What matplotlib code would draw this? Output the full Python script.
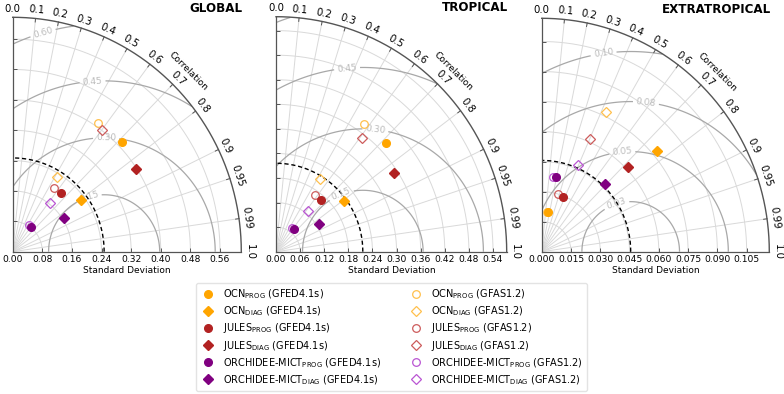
import numpy as np
import matplotlib
matplotlib.use('Agg')
import matplotlib.pyplot as plt
from matplotlib.lines import Line2D

# order of the six model entries in every list below
model_names = ['OCN', 'OCN', 'JULES', 'JULES', 'ORCHIDEE-MICT', 'ORCHIDEE-MICT']
model_modes = ['PROG', 'DIAG', 'PROG', 'DIAG', 'PROG', 'DIAG']

corr_ticks = [0.0, 0.1, 0.2, 0.3, 0.4, 0.5, 0.6, 0.7, 0.8, 0.9, 0.95, 0.99, 1.0]
corr_labels = ['0.0', '0.1', '0.2', '0.3', '0.4', '0.5', '0.6', '0.7', '0.8', '0.9', '0.95', '0.99', '1.0']
corr_grid = [0.1, 0.2, 0.3, 0.4, 0.5, 0.6, 0.7, 0.8, 0.9, 0.95, 0.99]

# GLOBAL
global_ref = 0.247
global_std_gfed = [0.412, 0.230, 0.202, 0.398, 0.082, 0.164]
global_corr_gfed = [0.715, 0.805, 0.649, 0.836, 0.600, 0.844]
global_std_gfas = [0.410, 0.230, 0.202, 0.401, 0.083, 0.164]
global_corr_gfas = [0.564, 0.523, 0.558, 0.604, 0.523, 0.618]
global_rms_levels = [0.15, 0.30, 0.45, 0.60]
global_rms_labels = ['0.15', '0.30', '0.45', '0.60']

# TROPICAL
tropical_ref = 0.216
tropical_std_gfed = [0.381, 0.210, 0.169, 0.350, 0.071, 0.126]
tropical_corr_gfed = [0.717, 0.804, 0.664, 0.836, 0.638, 0.845]
tropical_std_gfas = [0.381, 0.209, 0.169, 0.350, 0.070, 0.128]
tropical_corr_gfas = [0.577, 0.525, 0.580, 0.611, 0.565, 0.630]
tropical_rms_levels = [0.15, 0.30, 0.45, 0.60]
tropical_rms_labels = ['0.15', '0.30', '0.45', None]

# EXTRATROPICAL
extra_ref = 0.0456
extra_std_gfed = [0.0199, 0.0775, 0.0296, 0.0615, 0.0380, 0.0467]
extra_corr_gfed = [0.172, 0.761, 0.375, 0.723, 0.193, 0.694]
extra_std_gfas = [0.0198, 0.0773, 0.0299, 0.0617, 0.0379, 0.0469]
extra_corr_gfas = [0.129, 0.426, 0.286, 0.404, 0.158, 0.393]
extra_rms_levels = [0.025, 0.05, 0.075, 0.10, 0.125]
extra_rms_labels = ['0.03', '0.05', '0.08', '0.10', None]

gfed_colors = ['#FFA500', '#FFA500', '#B22222', '#B22222', '#800080', '#800080']
gfas_colors = ['#FFC04D', '#FFC04D', '#CD5C5C', '#CD5C5C', '#BA55D3', '#BA55D3']
markers = ['o', 'D', 'o', 'D', 'o', 'D']

W, H = 784, 394
fig = plt.figure(figsize=(W / 100, H / 100), dpi=100)

grid_col = '#d9d9d9'
axis_col = '#555555'


def taylor_panel(ox, oy, rx, ry, title, rmax, step, fmt, ref,
                 std_gfed, corr_gfed, std_gfas, corr_gfas,
                 rms_levels, rms_labels, label_angles):
    ax = fig.add_axes([ox / W, (H - oy) / H, rx / W, ry / H])
    ax.patch.set_alpha(0)
    ax.set_xlim(0, rmax)
    ax.set_ylim(0, rmax)
    for s in ['top', 'right']:
        ax.spines[s].set_visible(False)
    for s in ['left', 'bottom']:
        ax.spines[s].set_color(axis_col)
        ax.spines[s].set_linewidth(0.9)

    ticks = np.arange(0, rmax - 1e-9, step)
    ax.set_xticks(ticks)
    ax.set_xticklabels([fmt % t for t in ticks])
    ax.set_yticks(ticks)
    ax.set_yticklabels([])
    ax.tick_params(direction='in', length=3, width=0.7, color=axis_col,
                   labelsize=6.6, pad=2.5)
    ax.set_xlabel('Standard Deviation', fontsize=6.5, labelpad=1)

    th = np.linspace(0, np.pi / 2, 300)
    # std grid arcs
    for t in ticks[1:]:
        ax.plot(t * np.cos(th), t * np.sin(th), color=grid_col, lw=0.7, zorder=0)
    # correlation grid lines
    for c in corr_grid:
        ax.plot([0, rmax * c], [0, rmax * np.sqrt(1 - c ** 2)],
                color=grid_col, lw=0.7, zorder=0)

    # RMS contours
    xs = np.linspace(0, rmax, 500)
    X, Y = np.meshgrid(xs, xs)
    R = np.ma.masked_where(np.hypot(X, Y) > rmax, np.hypot(X - ref, Y))
    cs = ax.contour(X, Y, R, levels=rms_levels, colors='#a8a8a8',
                    linewidths=0.9, zorder=1)
    lab_levels = [l for l, t in zip(rms_levels, rms_labels) if t is not None]
    lab_fmt = {l: t for l, t in zip(rms_levels, rms_labels) if t is not None}
    pos = [(ref + l * np.cos(np.radians(a)), l * np.sin(np.radians(a)))
           for l, a in zip(lab_levels, label_angles)]
    ax.clabel(cs, levels=lab_levels, inline=True, fmt=lab_fmt, fontsize=6.5,
              colors='#bcbcbc', manual=pos, inline_spacing=3)

    # reference std circle and outer arc
    ax.plot(ref * np.cos(th), ref * np.sin(th), color='k', ls='--', lw=1.0,
            dashes=(3, 2), zorder=2)
    ax.plot(rmax * np.cos(th), rmax * np.sin(th), color=axis_col, lw=1.0,
            clip_on=False, zorder=2)

    # correlation ticks + labels
    for c, lab in zip(corr_ticks, corr_labels):
        a = np.arccos(c)
        x, y = rmax * np.cos(a), rmax * np.sin(a)
        ax.plot([x, x * 0.985], [y, y * 0.985], color=axis_col, lw=0.7,
                clip_on=False)
        ax.annotate(lab, xy=(x, y), xytext=(6 * np.cos(a), 6 * np.sin(a)),
                    textcoords='offset points', rotation=np.degrees(a) - 90,
                    rotation_mode='anchor', ha='center', va='center',
                    fontsize=7.3, annotation_clip=False)
    a = np.radians(45)
    ax.annotate('Correlation', xy=(rmax * np.cos(a), rmax * np.sin(a)),
                xytext=(14.5 * np.cos(a), 14.5 * np.sin(a)),
                textcoords='offset points', rotation=-45, rotation_mode='anchor',
                ha='center', va='center', fontsize=6.6, annotation_clip=False)

    ax.annotate(title, xy=(1, 1), xycoords='axes fraction', xytext=(1, 3.8),
                textcoords='offset points', ha='right', va='baseline',
                fontsize=8.6, fontweight='bold', annotation_clip=False)

    # model points: GFAS first so GFED sits on top
    for s, c, col, m in zip(std_gfas, corr_gfas, gfas_colors, markers):
        ax.plot(s * c, s * np.sqrt(1 - c ** 2), marker=m, ls='none',
                mfc='none', mec=col, mew=0.9, ms=5.5 if m == 'o' else 4.6,
                zorder=4, clip_on=False)
    for s, c, col, m in zip(std_gfed, corr_gfed, gfed_colors, markers):
        ax.plot(s * c, s * np.sqrt(1 - c ** 2), marker=m, ls='none',
                color=col, ms=5.5 if m == 'o' else 4.6, zorder=5, clip_on=False)
    return ax


taylor_panel(12.7, 251.7, 228.6, 234.4, 'GLOBAL', 0.6175, 0.08, '%.2f', global_ref,
             global_std_gfed, global_corr_gfed, global_std_gfas, global_corr_gfas,
             global_rms_levels, global_rms_labels, [106, 89, 94, 106])
taylor_panel(276, 251.7, 230.7, 235.0, 'TROPICAL', 0.574, 0.06, '%.2f', tropical_ref,
             tropical_std_gfed, tropical_corr_gfed, tropical_std_gfas, tropical_corr_gfas,
             tropical_rms_levels, tropical_rms_labels, [111, 84, 95])
taylor_panel(541.7, 251.7, 227.6, 233.4, 'EXTRATROPICAL', 0.1166, 0.015, '%.3f', extra_ref,
             extra_std_gfed, extra_corr_gfed, extra_std_gfas, extra_corr_gfas,
             extra_rms_levels, extra_rms_labels, [107, 95, 84, 98])

# legend: GFED4.1s column, then GFAS1.2 column
handles = []
for name, mode, col, m in zip(model_names, model_modes, gfed_colors, markers):
    handles.append(Line2D([], [], ls='none', marker=m, color=col,
                          ms=5.5 if m == 'o' else 4.6,
                          label=name + r'$_{\rm ' + mode + '}$ (GFED4.1s)'))
for name, mode, col, m in zip(model_names, model_modes, gfas_colors, markers):
    handles.append(Line2D([], [], ls='none', marker=m, mfc='none', mec=col, mew=0.9,
                          ms=5.5 if m == 'o' else 4.6,
                          label=name + r'$_{\rm ' + mode + '}$ (GFAS1.2)'))
fig.legend(handles=handles, loc='upper center', bbox_to_anchor=(0.4994, 0.281),
           ncol=2, fontsize=7, frameon=True, edgecolor='#dddddd', fancybox=True,
           handlelength=1.5, handletextpad=0.8, columnspacing=2.8,
           labelspacing=0.34, borderpad=0.45, borderaxespad=0)

fig.savefig('out.png', dpi=100)
